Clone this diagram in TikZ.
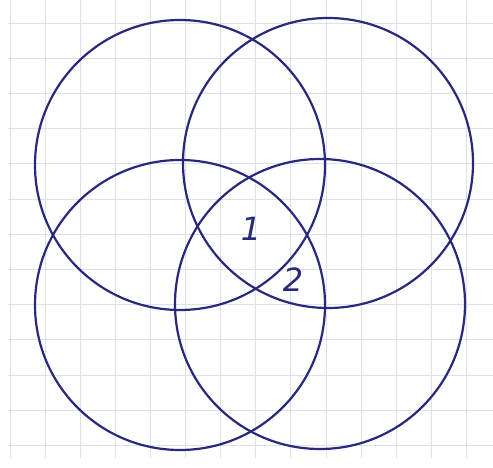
\documentclass[tikz,border=0pt]{standalone}
\usepackage{fontspec}
\setsansfont{DejaVu Sans}
\begin{document}
\begin{tikzpicture}[x=1pt,y=-1pt,
  ink/.style={draw=inkblue, line width=2.2pt},
  ring/.style={ink, circle, inner sep=0pt, minimum size=290pt},
  digit/.style={text=inkblue, font=\sffamily\fontsize{32}{32}\selectfont\itshape, inner sep=0pt},
  gridline/.style={draw=gridgray, line width=0.7pt}]
\definecolor{inkblue}{RGB}{40,40,125}
\definecolor{gridgray}{RGB}{222,224,236}
\useasboundingbox (0,0) rectangle (493,468);
\fill[white] (0,0) rectangle (493,468);
\foreach \k in {0,...,13} {\draw[gridline] ({10+35.1*\k},0) -- ({10+35.1*\k},458);}
\foreach \k in {0,...,12} {\draw[gridline] (8,{23+35.2*\k}) -- (493,{23+35.2*\k});}
\node[ring] (A) at (180,165) {};
\node[ring] (B) at (328,163) {};
\node[ring] (C) at (180,305) {};
\node[ring] (D) at (320,304) {};
\node[digit] (n1) at (251,229) {1};
\node[digit] (n2) at (293,280) {2};
\end{tikzpicture}
\end{document}
